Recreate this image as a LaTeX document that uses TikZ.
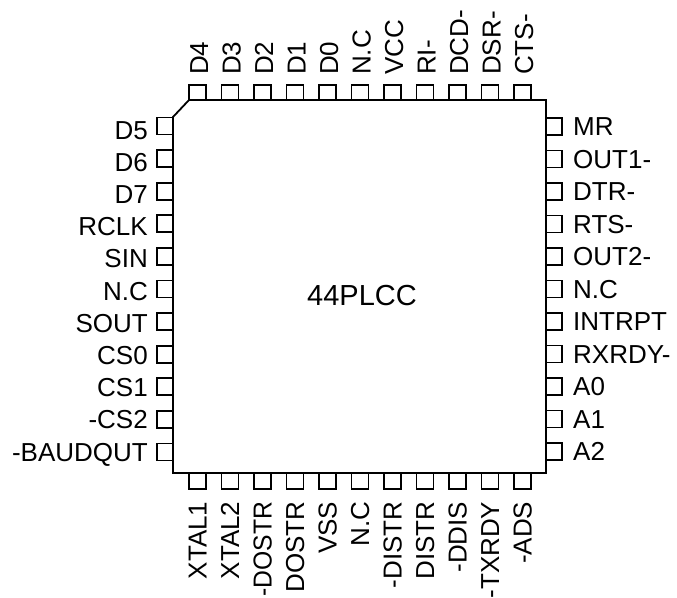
\documentclass[tikz,border=0pt]{standalone}
\usepackage{fontspec}
\usepackage{graphicx}
\setmainfont{Liberation Sans}
\tikzset{
  pinline/.style={draw=black,line width=1.8pt,line join=miter},
  lab/.style={inner sep=0pt,font=\fontsize{26}{26}\selectfont,text=black},
}
\begin{document}
\begin{tikzpicture}[x=1pt,y=-1pt]
\useasboundingbox (0,0) rectangle (677,597);
% top pins
\foreach \t [count=\i from 0] in {D4,D3,D2,D1,D0,N.C,VCC,RI-,DCD-,DSR-,CTS-}{
  \pgfmathsetmacro\px{197.5+32.5*\i}
  \draw[pinline] (\px-8.5,100) |- (\px+8.5,85) -- (\px+8.5,100);
  \node[lab,rotate=90,anchor=base west] (top\i) at (\px+10.5,75) {\t};
}
% bottom pins
\foreach \t [count=\i from 0] in {XTAL1,XTAL2,\scalebox{.95}[1]{-DOSTR},DOSTR,VSS,N.C,-DISTR,DISTR,-DDIS,-TXRDY,-ADS}{
  \pgfmathsetmacro\px{197.5+32.5*\i}
  \draw[pinline] (\px-8.5,473) |- (\px+8.5,489) -- (\px+8.5,473);
  \node[lab,rotate=90,anchor=base east] (bot\i) at (\px+9,501.5) {\t};
}
% left pins
\foreach \t [count=\i from 0] in {D5,D6,D7,RCLK,SIN,N.C,SOUT,CS0,CS1,-CS2,-BAUDQUT}{
  \pgfmathsetmacro\py{126+32.6*\i}
  \pgfmathsetmacro\by{139+32.2*\i}
  \draw[pinline] (173,\py-8.5) -| (157,\py+8.5) -- (173,\py+8.5);
  \node[lab,anchor=base east] (left\i) at (148,\by) {\t};
}
% right pins
\foreach \t [count=\i from 0] in {MR,OUT1-,DTR-,RTS-,OUT2-,N.C,INTRPT,RXRDY-,A0,A1,A2}{
  \pgfmathsetmacro\py{126.5+32.5*\i}
  \pgfmathsetmacro\by{135.5+32.5*\i}
  \draw[pinline] (546,\py-8.5) -| (562,\py+8.5) -- (546,\py+8.5);
  \node[lab,anchor=base west] (right\i) at (573,\by) {\t};
}
\draw[pinline] (189,100) -- (546,100) -- (546,473) -- (173,473) -- (173,117) -- cycle;
\node[lab,font=\fontsize{29}{29}\selectfont,anchor=base] (chip) at (362,305) {44PLCC};
\end{tikzpicture}
\end{document}
